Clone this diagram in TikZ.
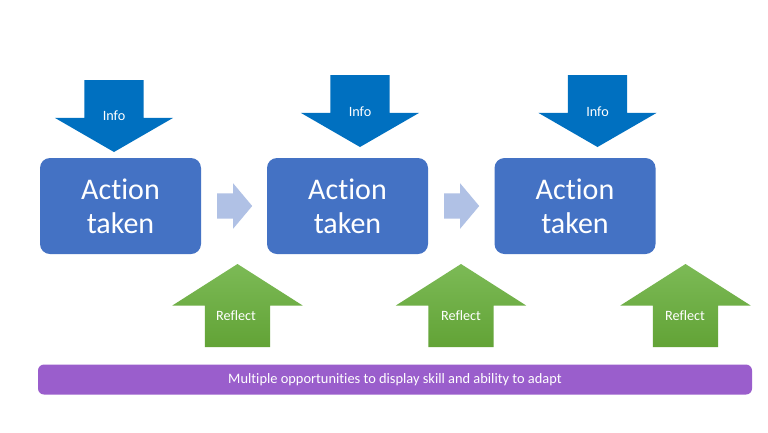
\documentclass[tikz,border=0pt]{standalone}
\usepackage{fontspec}
\setmainfont[Ligatures={NoCommon}]{Carlito}
\usepackage{tikz}
\usetikzlibrary{shapes.arrows, positioning, calc}

\definecolor{actionblue}{RGB}{68, 114, 196}
\definecolor{infoblue}{RGB}{0, 112, 192}
\definecolor{reflecttop}{RGB}{124, 186, 86}
\definecolor{reflectbot}{RGB}{98, 163, 54}
\definecolor{steplight}{RGB}{176, 193, 229}
\definecolor{barpurple}{RGB}{154, 94, 204}

\tikzset{
  actionbox/.style={fill=actionblue, rounded corners=10pt, text=white, minimum width=161pt, minimum height=96pt, align=center, font=\fontsize{30}{34}\selectfont},
  infoarrow/.style={single arrow, fill=infoblue, shape border rotate=270, minimum width=118pt, single arrow head extend=29.5pt, minimum height=72pt, single arrow tip angle=120, inner xsep=29.5pt, inner ysep=0pt, outer sep=0pt, anchor=tip},
  reflectarrow/.style={single arrow, top color=reflecttop, bottom color=reflectbot, shape border rotate=90, minimum width=130pt, single arrow head extend=32.5pt, minimum height=83pt, single arrow tip angle=115, inner xsep=32.5pt, inner ysep=0pt, outer sep=0pt, anchor=tip},
  steparrow/.style={single arrow, fill=steplight, minimum width=45pt, single arrow head extend=10pt, minimum height=35pt, single arrow tip angle=100, inner xsep=0pt, inner ysep=12.5pt, outer sep=0pt, anchor=tail},
  arrowtext/.style={text=white, font=\fontsize{14.2}{17}\selectfont}
}

\begin{document}
\begin{tikzpicture}[x=1pt, y=-1pt]
  \useasboundingbox[fill=white] (0,0) rectangle (768,432);

  % Actions
  \node[actionbox] (act1) at (120.5, 206) {Action\\taken};
  \node[actionbox] (act2) at (347.5, 206) {Action\\taken};
  \node[actionbox] (act3) at (575, 206) {Action\\taken};

  % Arrows between actions
  \node[steparrow] (step1) at ([xshift=16pt]act1.east) {};
  \node[steparrow] (step2) at ([xshift=16pt]act2.east) {};

  % Info coming in
  \node[infoarrow] (info1) at (114, 152) {};
  \node[arrowtext] (info1txt) at (114, 116) {Info};
  \node[infoarrow] (info2) at (360, 147) {};
  \node[arrowtext] (info2txt) at (360, 112) {Info};
  \node[infoarrow] (info3) at (597.5, 147) {};
  \node[arrowtext] (info3txt) at (597.5, 112) {Info};

  % Reflection
  \node[reflectarrow] (refl1) at (237.5, 264) {};
  \node[arrowtext] (refl1txt) at (236, 316) {Reflect};
  \node[reflectarrow] (refl2) at (461, 264) {};
  \node[arrowtext] (refl2txt) at (461, 316) {Reflect};
  \node[reflectarrow] (refl3) at (685.5, 264) {};
  \node[arrowtext] (refl3txt) at (685, 316) {Reflect};

  % Bottom bar
  \node[fill=barpurple, rounded corners=6pt, minimum width=714pt, minimum height=30pt, text=white, font=\fontsize{14.4}{17}\selectfont] (bar) at (395, 379.5) {Multiple opportunities to display skill and ability to adapt};
\end{tikzpicture}
\end{document}
